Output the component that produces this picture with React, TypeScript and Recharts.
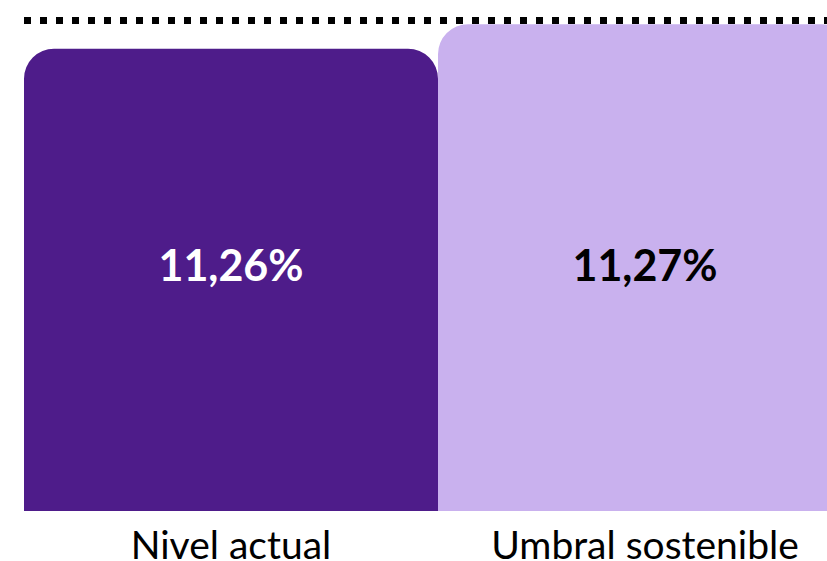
import { BarChart, Bar, XAxis, YAxis, Cell, LabelList, ReferenceLine } from "recharts";

const categories = ["Nivel actual", "Umbral sostenible"];
const values = [11.26, 11.27];
const valueLabels = ["11,26%", "11,27%"];
const barColors = ["#4e1c8a", "#c9b1ee"];
const labelColors = ["#ffffff", "#000000"];
const thresholdLine = 11.2716;

const data = categories.map((name, i) => ({ name, value: values[i], label: valueLabels[i] }));

const FONT = "Lato, 'Noto Sans', sans-serif";

function ValueLabel(props: any) {
  const { x, width, y, height, index } = props;
  const cx = x + width / 2;
  const bottom = y + height;
  return (
    <text
      x={cx}
      y={bottom - 230}
      textAnchor="middle"
      fill={labelColors[index]}
      fontFamily={FONT}
      fontWeight={700}
      fontSize={43}
    >
      {valueLabels[index]}
    </text>
  );
}

function CategoryTick(props: any) {
  const { x, y, payload } = props;
  return (
    <text x={x} y={y + 40} textAnchor="middle" fill="#000" fontFamily={FONT} fontSize={39}>
      {payload.value}
    </text>
  );
}

export default function App() {
  return (
    <div style={{ position: "fixed", left: 0, top: 0, width: 827, height: 561, overflow: "hidden", background: "#fff" }}>
      <BarChart
        width={852}
        height={561}
        data={data}
        margin={{ top: 0, right: 0, bottom: 0, left: 24 }}
        barCategoryGap={0}
        barGap={0}
      >
        <XAxis dataKey="name" axisLine={false} tickLine={false} height={50} interval={0} tick={<CategoryTick />} />
        <YAxis hide domain={[11.07, 11.28]} allowDataOverflow />
        <Bar dataKey="value" radius={[30, 30, 0, 0]} isAnimationActive={false}>
          {data.map((d, i) => (
            <Cell key={d.name} fill={barColors[i]} />
          ))}
          <LabelList dataKey="label" content={<ValueLabel />} />
        </Bar>
        <ReferenceLine y={thresholdLine} stroke="#000" strokeWidth={7} strokeDasharray="7 9" ifOverflow="extendDomain" />
      </BarChart>
    </div>
  );
}
